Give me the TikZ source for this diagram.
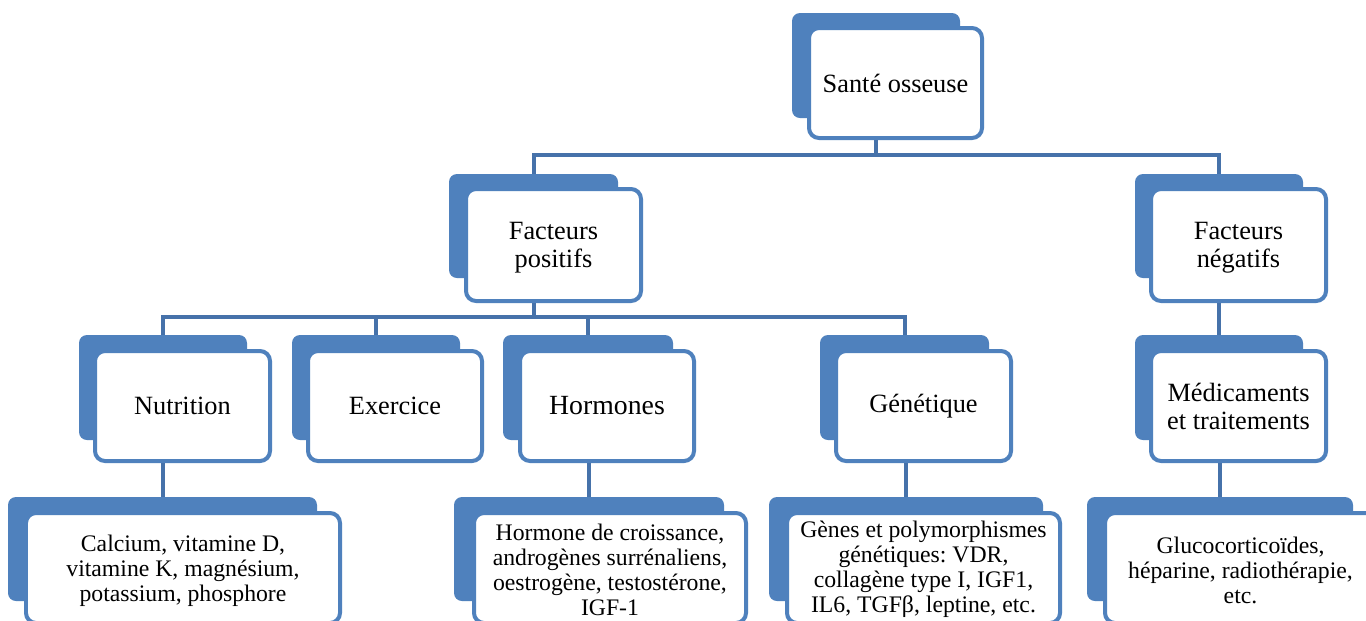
\documentclass[tikz,border=0pt]{standalone}
\usepackage{fontspec}
\setmainfont{Liberation Serif}
\usetikzlibrary{fit}
\definecolor{boxblue}{HTML}{4F81BD}
\definecolor{linkblue}{HTML}{4672AA}
\frenchspacing
\begin{document}
\begin{tikzpicture}[x=0.02cm,y=-0.02cm,
 backbox/.style={fill=boxblue, draw=none, rounded corners=0.16cm, inner sep=0pt},
 frontbox/.style={fill=white, draw=boxblue, line width=0.08cm, rounded corners=0.2cm, inner sep=0pt},
 midtext/.style={inner sep=0pt, align=center, font=\fontsize{15}{15.9}\selectfont},
 leaftext/.style={inner sep=0pt, align=center, font=\fontsize{13.5}{14.2}\selectfont},
 conn/.style={draw=linkblue, line width=0.08cm}]
\useasboundingbox (0,0) rectangle (1366,620);
\clip (0,0) rectangle (1366,620);
\fill[white] (0,0) rectangle (1366,620);

% row 1
\node[backbox, fit={(792,13) (960,118)}] (santeB) {};
\node[frontbox, fit={(809,28) (982,138)}] (santeF) {};
\node[midtext] (santeT) at (santeF.center) {Santé osseuse};

% row 2
\node[backbox, fit={(449,174) (618,278)}] (fposB) {};
\node[frontbox, fit={(466,189) (641,301)}] (fposF) {};
\node[midtext] (fposT) at ([yshift=-0.05cm]fposF.center) {Facteurs\\positifs};
\node[backbox, fit={(1135,174) (1303,278)}] (fnegB) {};
\node[frontbox, fit={(1151,189) (1326,301)}] (fnegF) {};
\node[midtext] (fnegT) at ([yshift=-0.05cm]fnegF.center) {Facteurs\\négatifs};

% row 3
\node[backbox, fit={(79,335) (247,440)}] (nutB) {};
\node[frontbox, fit={(95,351) (270,461)}] (nutF) {};
\node[midtext] (nutT) at (nutF.center) {Nutrition};
\node[backbox, fit={(292,335) (460,440)}] (exeB) {};
\node[frontbox, fit={(308,351) (482,461)}] (exeF) {};
\node[midtext] (exeT) at (exeF.center) {Exercice};
\node[backbox, fit={(503,335) (673,440)}] (horB) {};
\node[frontbox, fit={(520,351) (694,461)}] (horF) {};
\node[midtext, font=\fontsize{15.8}{16.5}\selectfont] (horT) at (horF.center) {Hormones};
\node[backbox, fit={(820,335) (989,440)}] (genB) {};
\node[frontbox, fit={(836,351) (1011,461)}] (genF) {};
\node[midtext] (genT) at (genF.center) {Génétique};
\node[backbox, fit={(1135,335) (1303,440)}] (medB) {};
\node[frontbox, fit={(1151,351) (1326,461)}] (medF) {};
\node[midtext] (medT) at (medF.center) {Médicaments\\et traitements};

% row 4
\node[backbox, fit={(8,497) (317,601)}] (calB) {};
\node[frontbox, fit={(26,513) (340,623)}] (calF) {};
\node[leaftext] (calT) at ([yshift=-0.05cm]calF.center) {Calcium, vitamine D,\\vitamine K, magnésium,\\potassium, phosphore};
\node[backbox, fit={(454,497) (724,601)}] (hteB) {};
\node[frontbox, fit={(474,513) (746,623)}] (hteF) {};
\node[leaftext] (hteT) at ([yshift=-0.03cm]hteF.center) {Hormone de croissance,\\androgènes surrénaliens,\\oestrogène, testostérone,\\IGF-1};
\node[backbox, fit={(769,497) (1043,601)}] (gnsB) {};
\node[frontbox, fit={(787,513) (1060,623)}] (gnsF) {};
\node[leaftext] (gnsT) at ([yshift=-0.03cm]gnsF.center) {Gènes et polymorphismes\\génétiques: VDR,\\collagène type I, IGF1,\\IL6, TGFβ, leptine, etc.};
\node[backbox, fit={(1087,497) (1353,601)}] (gluB) {};
\node[frontbox, fit={(1105,513) (1376,623)}] (gluF) {};
\node[leaftext] (gluT) at ([yshift=-0.05cm]gluF.center) {Glucocorticoïdes,\\héparine, radiothérapie,\\etc.};

% connectors
\coordinate (bus1) at (0,155);
\coordinate (bus2) at (0,317);
\draw[conn] (santeB.center |- santeF.south) -- (santeB.center |- bus1);
\draw[conn] (fposB.north) |- (fnegB.north |- bus1) -- (fnegB.north);
\draw[conn] (fposB.center |- fposF.south) -- (fposB.center |- bus2);
\draw[conn] (nutB.north) |- (genB.north |- bus2) -- (genB.north);
\draw[conn] (exeB.north) -- (exeB.north |- bus2);
\draw[conn] (horB.north) -- (horB.north |- bus2);
\draw[conn] (medB.north |- fnegF.south) -- (medB.north);
\draw[conn] (calB.north |- nutF.south) -- (calB.north);
\draw[conn] (hteB.north |- horF.south) -- (hteB.north);
\draw[conn] (gnsB.north |- genF.south) -- (gnsB.north);
\draw[conn] (gluB.north |- medF.south) -- (gluB.north);
\end{tikzpicture}
\end{document}
